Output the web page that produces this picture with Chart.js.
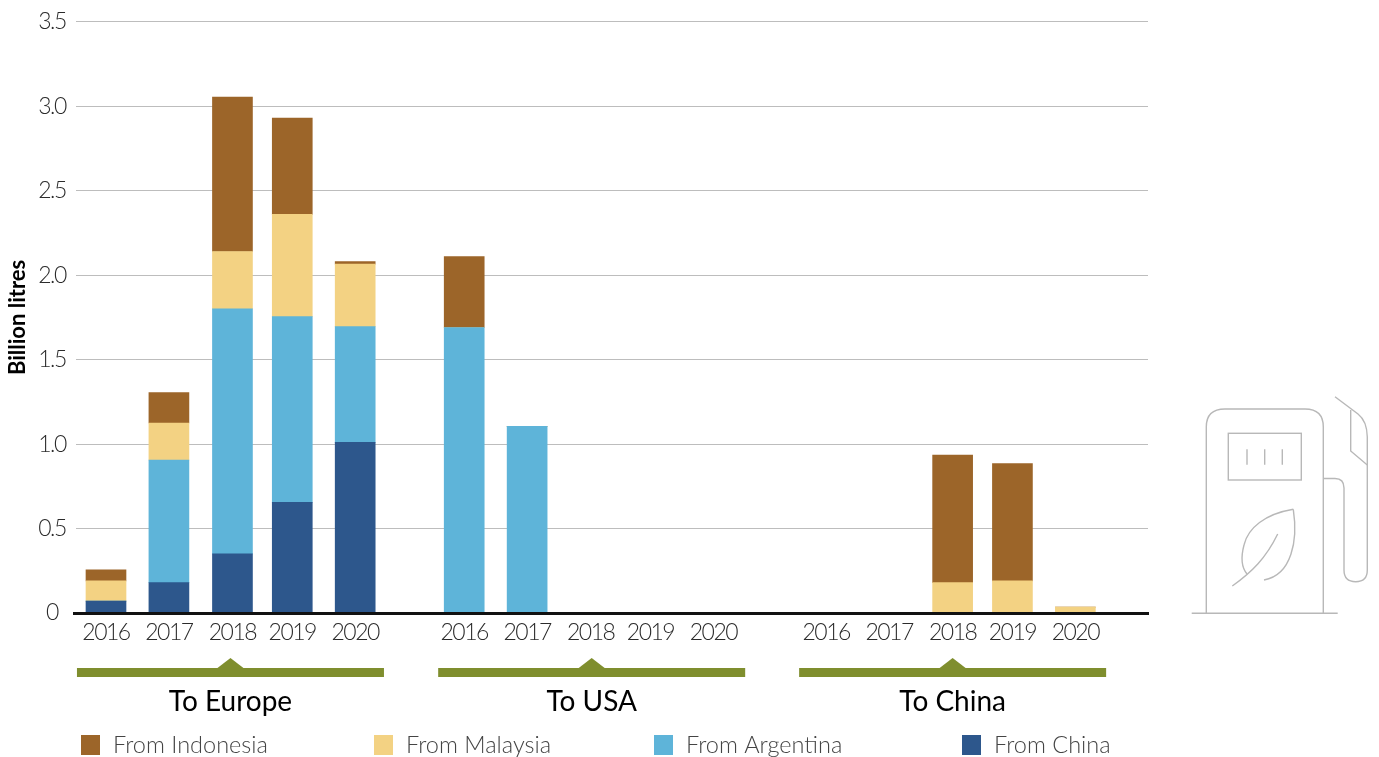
<!DOCTYPE html>
<html>
<head>
<meta charset="utf-8">
<title>Biodiesel trade</title>
<script src="https://cdn.jsdelivr.net/npm/chart.js@4"></script>
<style>
  html, body { margin: 0; padding: 0; background: #fff; }
  #wrap { position: relative; width: 1379px; height: 757px; }
  #pump { position: absolute; left: 1180px; top: 380px; }
</style>
</head>
<body>
<div id="wrap">
  <canvas id="tradeChart" width="1379" height="757"></canvas>
  <svg id="pump" width="199" height="250" viewBox="0 0 199 250" fill="none" stroke="#b8b8b8" stroke-width="1.4">
    <path d="M11.7 233.3H157.7"/>
    <path d="M26.3 233V47Q26.3 29 45 29H125Q143.3 29 143.3 47V233"/>
    <rect x="48.3" y="53.3" width="73" height="46.7"/>
    <path d="M67 69.3V84.7M84.7 69.3V84.7M102.3 69.3V84.7"/>
    <path d="M143.3 98.5H155Q164 98.5 164 108V190Q164 201.7 175.7 201.7Q187.3 201.7 187.3 190V57Q187 41 178 34L155 16.7"/>
    <path d="M170.7 30V71L187.3 85"/>
    <path d="M113.3 129.3C85 134 68 148 64 165C60 180 62 188 67 194"/>
    <path d="M113.3 129.3C118 160 112 195 84 200"/>
    <path d="M52.3 206C72 192 86 178 97.7 154"/>
  </svg>
</div>
<script>
// One entry per bar (billion litres)
const years = ["2016", "2017", "2018", "2019", "2020"];
const groups = ["To Europe", "To USA", "To China"];

const fromChina =     [0.07, 0.18, 0.35, 0.655, 1.01,  0, 0, 0, 0, 0,  0, 0, 0, 0, 0];
const fromArgentina = [0, 0.725, 1.45, 1.10, 0.685,  1.69, 1.105, 0, 0, 0,  0, 0, 0, 0, 0];
const fromMalaysia =  [0.12, 0.22, 0.34, 0.605, 0.37,  0, 0, 0, 0, 0,  0, 0, 0.18, 0.19, 0.035];
const fromIndonesia = [0.065, 0.18, 0.915, 0.57, 0.015,  0.42, 0, 0, 0, 0,  0, 0, 0.755, 0.695, 0];

const yTicks = [0, 0.5, 1, 1.5, 2, 2.5, 3, 3.5];

// Where each group starts on the x axis, counted in year slots.
// The years are not evenly spaced in the original, hence yearSlot.
const groupStart = [0, 5.75, 11.56];
const yearSlot = [0, 1.01, 2.03, 2.99, 4];
const slots = [];
groupStart.forEach(start => yearSlot.forEach(s => slots.push(start + s)));

const toPoints = values => values.map((v, i) => ({ x: slots[i], y: v }));

const baseFont = "Lato, sans-serif";
const colors = {
  indonesia: "#9c6529",
  malaysia: "#f3d283",
  argentina: "#5eb4d9",
  china: "#2d578c",
  olive: "#7f8e2e"
};

// Legend order is top of stack first
const legendItems = [
  { label: "From Indonesia", color: colors.indonesia, x: 81 },
  { label: "From Malaysia", color: colors.malaysia, x: 374 },
  { label: "From Argentina", color: colors.argentina, x: 654 },
  { label: "From China", color: colors.china, x: 962 }
];

// Brackets are not quite centred on the middle bar of each group
const bracketNudge = [-2, 1, 0];

// Baseline, olive group brackets, group names and the legend row
const extras = {
  id: "extras",
  afterDatasetsDraw(chart) {
    const c = chart.ctx;
    const xs = chart.scales.x;
    const y0 = chart.scales.y.getPixelForValue(0);

    c.save();
    c.fillStyle = "#111";
    c.fillRect(73, Math.round(y0) - 1, 1076, 3);

    groupStart.forEach((start, g) => {
      const mid = xs.getPixelForValue(start + yearSlot[2]) + bracketNudge[g];
      c.fillStyle = colors.olive;
      c.fillRect(mid - 153.5, 668, 307, 9);
      c.beginPath();
      c.moveTo(mid - 13, 668);
      c.lineTo(mid, 658);
      c.lineTo(mid + 13, 668);
      c.fill();

      c.fillStyle = "#000";
      c.font = "400 28px " + baseFont;
      c.textAlign = "center";
      c.textBaseline = "middle";
      c.fillText(groups[g], mid, 702);
    });

    legendItems.forEach(item => {
      c.fillStyle = item.color;
      c.fillRect(item.x, 735, 19, 20);
      c.fillStyle = "#444";
      c.font = "300 23.5px " + baseFont;
      c.textAlign = "left";
      c.textBaseline = "middle";
      c.fillText(item.label, item.x + 32, 745);
    });
    c.restore();

    // Tick labels draw after this (z: 1). Lato's numerals run wide.
    c.letterSpacing = "-1.5px";
  }
};

new Chart(document.getElementById("tradeChart"), {
  type: "bar",
  data: {
    datasets: [
      { label: "From China", data: toPoints(fromChina), backgroundColor: colors.china },
      { label: "From Argentina", data: toPoints(fromArgentina), backgroundColor: colors.argentina },
      { label: "From Malaysia", data: toPoints(fromMalaysia), backgroundColor: colors.malaysia },
      { label: "From Indonesia", data: toPoints(fromIndonesia), backgroundColor: colors.indonesia }
    ]
  },
  options: {
    responsive: false,
    animation: false,
    barThickness: 40,
    layout: { padding: { top: 21, right: 231 } },
    plugins: { legend: { display: false }, tooltip: { enabled: false } },
    scales: {
      x: {
        type: "linear",
        stacked: true,
        offset: false,
        min: -0.4815,
        max: 16.726,
        grid: { display: false, drawTicks: false },
        border: { display: false },
        afterBuildTicks(scale) {
          scale.ticks = slots.map(v => ({ value: v }));
        },
        afterFit(scale) { scale.height = 144; },
        ticks: {
          z: 1,
          autoSkip: false,
          maxRotation: 0,
          padding: 6,
          color: "#2b2b2b",
          font: { family: baseFont, size: 23, weight: "300" },
          callback: (value, i) => years[i % years.length]
        }
      },
      y: {
        stacked: true,
        min: 0,
        max: 3.5,
        afterBuildTicks(scale) {
          scale.ticks = yTicks.map(v => ({ value: v }));
        },
        afterFit(scale) { scale.width = 76; },
        grid: { color: "#bdbdbd", lineWidth: 1, drawTicks: false },
        border: { display: false },
        title: {
          display: true,
          text: "Billion litres",
          color: "#000",
          padding: { top: 5, bottom: 0 },
          font: { family: baseFont, size: 22, weight: "700" }
        },
        ticks: {
          z: 1,
          padding: 8,
          crossAlign: "center",
          color: "#2b2b2b",
          font: { family: baseFont, size: 23, weight: "300" },
          callback: v => (v === 0 ? "0" : v.toFixed(1))
        }
      }
    }
  },
  plugins: [extras]
});
</script>
</body>
</html>
